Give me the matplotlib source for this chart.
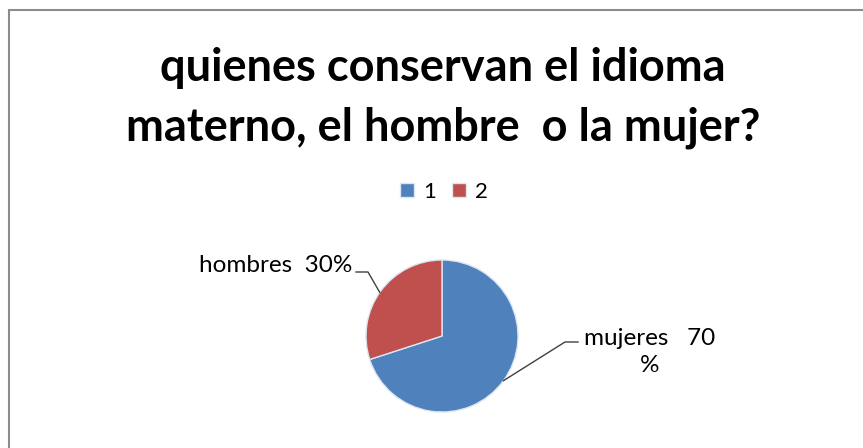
import matplotlib.pyplot as plt
from matplotlib.patches import Rectangle
import numpy as np

plt.rcParams['font.family'] = ['Lato', 'DejaVu Sans']

series = ["1", "2"]
shares = [70, 30]
labels = ["mujeres   70\n%", "hombres  30%"]
colors = ["#4F81BD", "#C0504D"]
title = "quienes conservan el idioma\nmaterno, el hombre  o la mujer?"

W, H = 863, 448
fig = plt.figure(figsize=(W / 100, H / 100), dpi=100)

# outer frame (runs off the right and bottom edges)
fig.patches.append(Rectangle((9 / W, -0.1), 1.1, (H - 10) / H + 0.1,
                             transform=fig.transFigure, fill=False,
                             edgecolor="#8c8c8c", linewidth=1.5))

fig.text(443 / W, 1 - 98 / H, title, ha="center", va="center",
         fontsize=32.5, fontweight="bold", linespacing=1.5)

# pie axes
cx, cy, r = 442, 336, 76
ax = fig.add_axes([(cx - r) / W, (H - cy - r) / H, 2 * r / W, 2 * r / H])
wedges, _ = ax.pie(shares, colors=colors, startangle=90, counterclock=False,
                   radius=1, wedgeprops=dict(edgecolor="#dce6f2", linewidth=1))
ax.set_xlim(-1, 1)
ax.set_ylim(-1, 1)
ax.set_aspect("equal")
ax.axis("off")


def px(x, y):
    return (x - cx) / r, (cy - y) / r


# leader lines and labels
for w, lab in zip(wedges, labels):
    if lab.startswith("hombres"):
        a = np.deg2rad(145)
        e = px(368, 272)
        s = px(356, 272)
        ax.plot([np.cos(a), e[0], s[0]], [np.sin(a), e[1], s[1]],
                color="#404040", lw=1, clip_on=False)
        tx, ty = px(352, 265)
        ax.text(tx, ty, lab, ha="right", va="center", fontsize=17.5)
    else:
        a = np.deg2rad(-36)
        e = px(565, 342)
        s = px(578, 342)
        ax.plot([np.cos(a), e[0], s[0]], [np.sin(a), e[1], s[1]],
                color="#404040", lw=1, clip_on=False)
        tx, ty = px(650, 352)
        ax.text(tx, ty, lab, ha="center", va="center", fontsize=17.5,
                multialignment="center", linespacing=1.4)

fig.legend(wedges, series, loc="center", bbox_to_anchor=(444 / W, 1 - 192 / H),
           ncol=2, frameon=False, fontsize=16, handlelength=0.62,
           handleheight=0.62, handletextpad=0.4, columnspacing=0.75)

fig.savefig("out.png", dpi=100)
